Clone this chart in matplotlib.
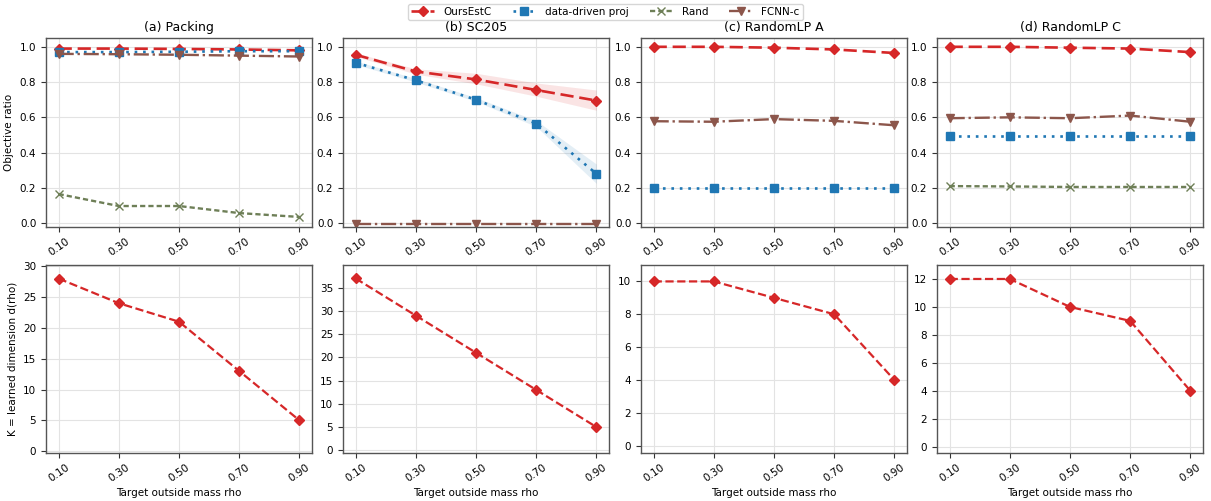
import numpy as np
import matplotlib
matplotlib.use("Agg")
import matplotlib.pyplot as plt

# x positions (target outside mass rho)
rho = [0.10, 0.30, 0.50, 0.70, 0.90]
rho_labels = ["0.10", "0.30", "0.50", "0.70", "0.90"]

titles = ["(a) Packing", "(b) SC205", "(c) RandomLP A", "(d) RandomLP C"]

# objective ratio per method, one list per problem
ours = [
    [0.990, 0.990, 0.988, 0.985, 0.980],
    [0.955, 0.860, 0.815, 0.755, 0.695],
    [1.000, 1.000, 0.995, 0.985, 0.965],
    [1.000, 1.000, 0.995, 0.990, 0.970],
]
datadriven = [
    [0.970, 0.970, 0.972, 0.975, 0.975],
    [0.910, 0.810, 0.700, 0.565, 0.280],
    [0.197, 0.197, 0.197, 0.197, 0.197],
    [0.495, 0.495, 0.495, 0.495, 0.495],
]
rand = [
    [0.165, 0.097, 0.097, 0.057, 0.035],
    [np.nan] * 5,
    [np.nan] * 5,
    [0.210, 0.208, 0.205, 0.205, 0.205],
]
fcnn = [
    [0.960, 0.958, 0.955, 0.950, 0.945],
    [-0.003, -0.003, -0.003, -0.003, -0.003],
    [0.578, 0.575, 0.590, 0.580, 0.555],
    [0.595, 0.600, 0.595, 0.610, 0.575],
]

# spread bands (only visible on SC205)
ours_lo = [None, [0.945, 0.845, 0.790, 0.720, 0.640], None, None]
ours_hi = [None, [0.965, 0.875, 0.850, 0.795, 0.755], None, None]
dd_lo = [None, [0.900, 0.800, 0.690, 0.548, 0.225], None, None]
dd_hi = [None, [0.920, 0.820, 0.712, 0.582, 0.335], None, None]

# learned dimension K per problem
dims = [
    [28, 24, 21, 13, 5],
    [37, 29, 21, 13, 5],
    [10, 10, 9, 8, 4],
    [12, 12, 10, 9, 4],
]
dim_ylims = [(-0.3, 30.2), (-0.6, 39.9), (-0.45, 11.0), (-0.45, 13.0)]
dim_ticks = [np.arange(0, 31, 5), np.arange(0, 36, 5), np.arange(0, 11, 2), np.arange(0, 13, 2)]

RED = "#d62728"
BLUE = "#1f77b4"
OLIVE = "#6e7f57"
BROWN = "#8c564b"

FS = 7.5

fig = plt.figure(figsize=(12.11, 5.01), dpi=100)
W, H = 1211, 501
lefts = [46, 343, 641, 937]
width = 266

def style(ax):
    ax.grid(True, color="#e3e3e3", linewidth=0.8)
    ax.set_axisbelow(True)
    for s in ax.spines.values():
        s.set_color("#555555")
        s.set_linewidth(1.0)
    ax.tick_params(labelsize=FS, color="#333333", length=3.5)
    ax.set_xticks(rho)
    ax.set_xticklabels(rho_labels, rotation=35)
    ax.set_xlim(0.058, 0.942)

handles = None
for i in range(4):
    ax = fig.add_axes([lefts[i] / W, (H - 227) / H, width / W, 189 / H])
    if ours_lo[i] is not None:
        ax.fill_between(rho, ours_lo[i], ours_hi[i], color=RED, alpha=0.12, linewidth=0)
        ax.fill_between(rho, dd_lo[i], dd_hi[i], color=BLUE, alpha=0.12, linewidth=0)
    h1, = ax.plot(rho, ours[i], color=RED, linestyle=(0, (5, 2.2)), linewidth=1.9,
                  marker="D", markersize=5.5, label="OursEstC")
    h2, = ax.plot(rho, datadriven[i], color=BLUE, linestyle=(0, (1, 2.2)), linewidth=1.9,
                  marker="s", markersize=5.5, label="data-driven proj")
    h3, = ax.plot(rho, rand[i], color=OLIVE, linestyle=(0, (2.2, 1.3)), linewidth=1.7,
                  marker="x", markersize=5.5, label="Rand")
    h4, = ax.plot(rho, fcnn[i], color=BROWN, linestyle="-.", linewidth=1.7,
                  marker="v", markersize=6, label="FCNN-c")
    if handles is None:
        handles = [h1, h2, h3, h4]
    ax.set_ylim(-0.022, 1.05)
    ax.set_yticks([0.0, 0.2, 0.4, 0.6, 0.8, 1.0])
    ax.set_title(titles[i], fontsize=9, pad=5)
    style(ax)
    if i == 0:
        ax.set_ylabel("Objective ratio", fontsize=FS)

    ax2 = fig.add_axes([lefts[i] / W, (H - 453) / H, width / W, 188 / H])
    ax2.plot(rho, dims[i], color=RED, linestyle="--", linewidth=1.6,
             marker="D", markersize=5.5)
    ax2.set_ylim(*dim_ylims[i])
    ax2.set_yticks(dim_ticks[i])
    style(ax2)
    ax2.set_xlabel("Target outside mass rho", fontsize=FS, labelpad=3)
    if i == 0:
        ax2.set_ylabel("K = learned dimension d(rho)", fontsize=FS)

fig.legend(handles=handles, loc="upper center", bbox_to_anchor=(0.5, 1.003), ncol=4,
           fontsize=FS, frameon=True, handlelength=2.2, columnspacing=2.0,
           borderpad=0.3, handletextpad=0.9)

fig.savefig("out.png", dpi=100)
